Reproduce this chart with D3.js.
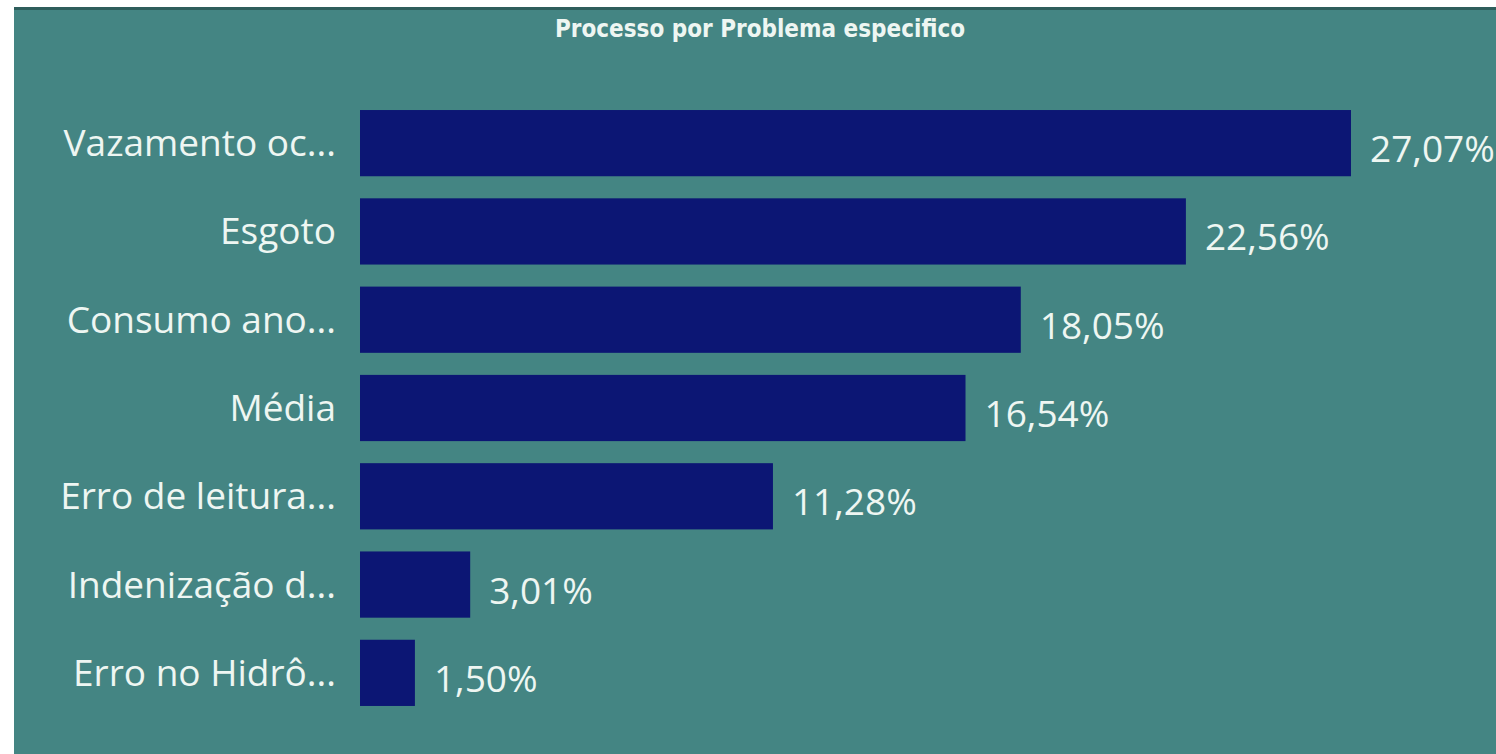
<!DOCTYPE html>
<html>
<head>
<meta charset="utf-8">
<script src="https://cdn.jsdelivr.net/npm/d3@7"></script>
<style>
  html, body { margin: 0; padding: 0; background: #fff; overflow: hidden; }
</style>
</head>
<body>
<div id="chart"></div>
<script>
// Chart data
const categories = ['Vazamento oc...', 'Esgoto', 'Consumo ano...', 'Média', 'Erro de leitura...', 'Indenização d...', 'Erro no Hidrô...'];
const values = [27.07, 22.56, 18.05, 16.54, 11.28, 3.01, 1.50];
const title = 'Processo por Problema especifico';

const width = 1496, height = 754;
const svg = d3.select('#chart').append('svg')
    .attr('width', width)
    .attr('height', height);

// Panel background
svg.append('rect')
    .attr('x', 14).attr('y', 7)
    .attr('width', width - 14).attr('height', height - 7)
    .attr('fill', '#448583');
svg.append('rect')
    .attr('x', 14).attr('y', 7)
    .attr('width', width - 14).attr('height', 3)
    .attr('fill', '#2e5e5c');

svg.append('text')
    .attr('x', 760).attr('y', 37)
    .attr('text-anchor', 'middle')
    .attr('font-family', '"DejaVu Sans Condensed", "DejaVu Sans", sans-serif')
    .attr('font-weight', 'bold')
    .attr('font-size', 24)
    .attr('fill', '#eef6f2')
    .text(title);

// Scales
const x = d3.scaleLinear()
    .domain([0, 27.07])
    .range([360, 1351]);
const y = d3.scaleBand()
    .domain(categories)
    .range([99, 717])
    .paddingInner(0.25)
    .paddingOuter(0.125);

const data = categories.map((c, i) => ({ cat: c, val: values[i] }));

svg.selectAll('rect.bar')
    .data(data)
    .join('rect')
    .attr('class', 'bar')
    .attr('x', x(0))
    .attr('y', d => y(d.cat))
    .attr('width', d => x(d.val) - x(0))
    .attr('height', y.bandwidth())
    .attr('fill', '#0c1674');

// Category labels
svg.selectAll('text.cat')
    .data(data)
    .join('text')
    .attr('class', 'cat')
    .attr('x', 336)
    .attr('y', d => y(d.cat) + y.bandwidth() / 2 + 13)
    .attr('text-anchor', 'end')
    .attr('font-family', '"Open Sans", sans-serif')
    .attr('font-size', 37)
    .attr('fill', '#eef6f2')
    .text(d => d.cat);

// Value labels
const fmt = v => v.toFixed(2).replace('.', ',') + '%';
svg.selectAll('text.val')
    .data(data)
    .join('text')
    .attr('class', 'val')
    .attr('x', d => x(d.val) + 19)
    .attr('y', d => y(d.cat) + y.bandwidth() / 2 + 19)
    .attr('font-family', '"Open Sans", sans-serif')
    .attr('font-size', 37)
    .attr('fill', '#eef6f2')
    .text(d => fmt(d.val));
</script>
</body>
</html>
